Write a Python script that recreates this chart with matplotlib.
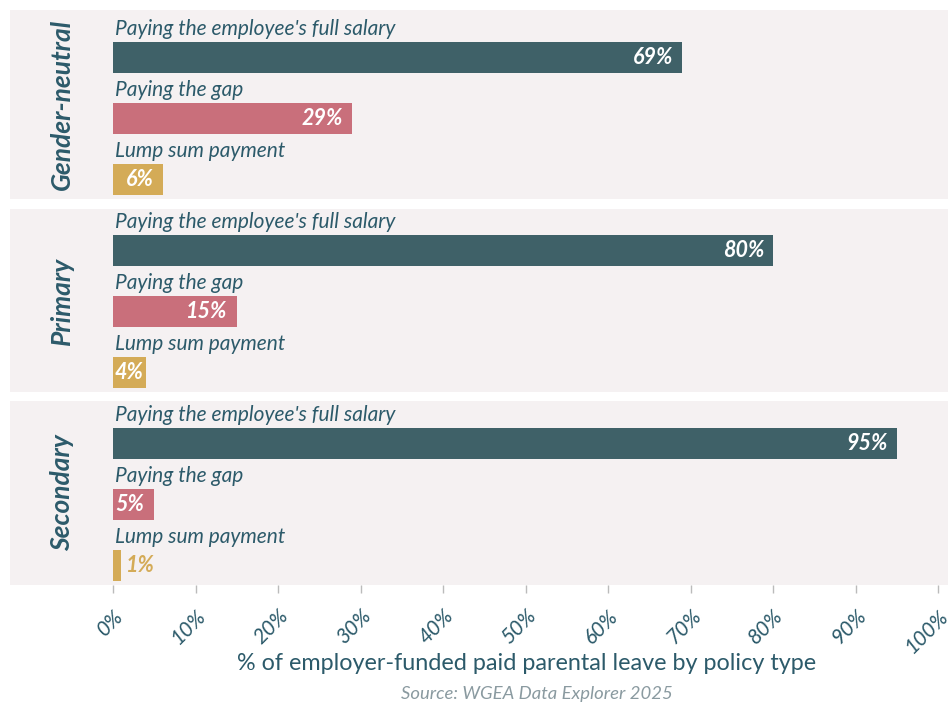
import matplotlib.pyplot as plt
from matplotlib.patches import Rectangle

plt.rcParams['font.family'] = ['Lato', 'DejaVu Sans']

# Leave types (panels) and payment methods (bars within each panel)
leave_types = ["Gender-neutral", "Primary", "Secondary"]
methods = ["Paying the employee's full salary", "Paying the gap", "Lump sum payment"]

# Share of employer-funded paid parental leave, % (rows follow leave_types)
full_salary = [69, 80, 95]
paying_gap = [29, 15, 5]
lump_sum = [6, 4, 1]

bar_colors = ["#3f6168", "#c96f7b", "#d4ab57"]
text_color = "#2c5a6a"
panel_color = "#f5f1f2"

W, H = 952, 705
fig = plt.figure(figsize=(W / 100, H / 100), dpi=100)
fig.patch.set_facecolor("white")

# panel extents in pixels (top, bottom)
panels_px = [(10, 199), (209, 392), (401, 585)]
plot_left, plot_right, panel_left, panel_right = 113, 938, 10, 948

values = list(zip(full_salary, paying_gap, lump_sum))

for i, (name, (top, bot)) in enumerate(zip(leave_types, panels_px)):
    fig.patches.append(Rectangle((panel_left / W, 1 - bot / H),
                                 (panel_right - panel_left) / W, (bot - top) / H,
                                 transform=fig.transFigure, facecolor=panel_color,
                                 edgecolor="none", zorder=-5))
    ax = fig.add_axes([plot_left / W, 1 - bot / H,
                       (plot_right - plot_left) / W, (bot - top) / H])
    ax.set_facecolor("none")
    span = (bot - top) / 61.0
    ax.set_ylim(2.32, 2.32 - span)
    ax.set_xlim(0, 100)
    for s in ax.spines.values():
        s.set_visible(False)

    ys = range(len(methods))
    ax.barh(ys, values[i], height=0.51, color=bar_colors, zorder=2)

    for y, (label, v, c) in enumerate(zip(methods, values[i], bar_colors)):
        ax.text(0.2, y - 0.3, label, ha="left", va="bottom", fontsize=15,
                style="italic", color=text_color)
        txt = f"{v}%"
        if v >= 6:
            ax.annotate(txt, (v, y), xytext=(-9, 0), textcoords="offset pixels",
                        ha="right", va="center", fontsize=15.5, style="italic",
                        fontweight="bold", color="white")
        elif v >= 2:
            ax.annotate(txt, (0, y), xytext=(2, 0), textcoords="offset pixels",
                        ha="left", va="center", fontsize=15.5, style="italic",
                        fontweight="bold", color="white")
        else:
            ax.annotate(txt, (v, y), xytext=(5, 0), textcoords="offset pixels",
                        ha="left", va="center", fontsize=15.5, style="italic",
                        fontweight="bold", color=c)

    fig.text(62 / W, 1 - (top + bot) / 2 / H, name, rotation=90, ha="center",
             va="center", fontsize=19, style="italic", fontweight="bold",
             color=text_color)

    ax.set_yticks([])
    if i < len(leave_types) - 1:
        ax.set_xticks([])
    else:
        ax.set_xticks(range(0, 101, 10))
        ax.set_xticklabels([f"{t}%" for t in range(0, 101, 10)], rotation=45,
                           ha="right", va="top", rotation_mode="anchor",
                           fontsize=15, style="italic", color=text_color)
        ax.tick_params(axis="x", length=6, width=1, color="#bbbbbb", pad=9)

fig.text(527 / W, 1 - 664 / H, "% of employer-funded paid parental leave by policy type",
         ha="center", va="center", fontsize=16.8, color=text_color)
fig.text(537 / W, 1 - 694 / H, "Source: WGEA Data Explorer 2025",
         ha="center", va="center", fontsize=13.3, style="italic", color="#8a9aa0")

fig.savefig("out.png", dpi=100)
